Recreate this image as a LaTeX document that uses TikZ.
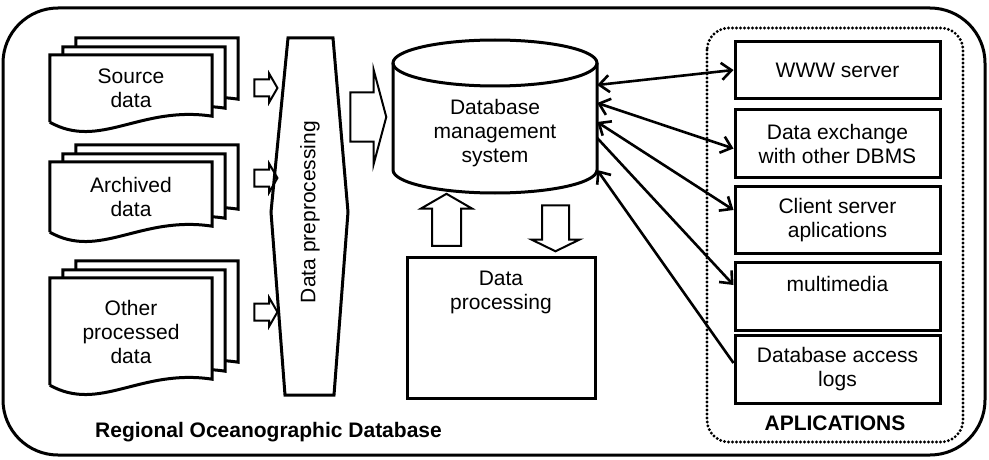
\documentclass[tikz,border=0pt]{standalone}
\usepackage{fontspec}
\setmainfont{Liberation Sans}
\usepackage{tikz}
\usetikzlibrary{shapes.arrows,arrows.meta,backgrounds}

\newcommand{\sheet}[3]{%
    \draw[line width=3pt, fill=white]
        ([xshift=#2, yshift=#3]#1.south west) -- ([xshift=#2, yshift=#3]#1.north west)
        -- ([xshift=#2, yshift=#3]#1.north east) -- ([xshift=#2, yshift=#3+6pt]#1.south east)
        .. controls ([xshift=#2-72pt, yshift=#3+17pt]#1.south east)
        and ([xshift=#2+50pt, yshift=#3-28pt]#1.south west) .. ([xshift=#2, yshift=#3]#1.south west);}
\newcommand{\docstack}[1]{\sheet{#1}{26pt}{17pt}\sheet{#1}{13pt}{8pt}\sheet{#1}{0pt}{0pt}}

\begin{document}
\begin{tikzpicture}
            [x=1pt, y=-1pt,
            every node/.style={font=\fontsize{21}{24}\selectfont, align=center, inner sep=0pt},
            doc/.style={minimum width=162pt},
            appbox/.style={draw, line width=3pt, minimum width=205pt},
            heading/.style={font=\fontsize{21}{24}\selectfont\bfseries},
            blockarrow/.style={draw, line width=2pt, single arrow, inner xsep=0pt, single arrow tip angle=120},
            conn/.style={line width=2.6pt, >={Straight Barb[length=10pt,width=17pt]}}]

            \useasboundingbox (0,0) rectangle (989,460);
            \draw[line width=3pt, rounded corners=55pt] (3,8) rectangle (985,455);

            \node[doc, minimum height=67pt] (src) at (131,88.5) {Source\\data};
            \node[doc, minimum height=70pt] (arch) at (131,197) {Archived\\data};
            \node[doc, minimum height=107pt] (oth) at (131,331.5) {Other\\processed\\data};
            \begin{scope}[on background layer]
                \docstack{src}
                \docstack{arch}
                \docstack{oth}
            \end{scope}

            \node[blockarrow, minimum height=23pt, inner ysep=7.5pt, single arrow head extend=6pt] (a1) at (263.5,88) {};
            \node[blockarrow, minimum height=23pt, inner ysep=7.5pt, single arrow head extend=6pt] (a2) at (263.5,178) {};
            \node[blockarrow, minimum height=23pt, inner ysep=7.5pt, single arrow head extend=6pt] (a3) at (263.5,312) {};

            \draw[line width=3pt] (288,38) -- (333,38) -- (348,212) -- (334,395) -- (285,395) -- (271,212) -- cycle;
            \node[rotate=90] (prep) at (310,212) {Data preprocessing};

            \node[blockarrow, minimum height=36pt, inner ysep=23.5pt, single arrow head extend=22.5pt,
                single arrow tip angle=150] (a4) at (365,117) {};

            \draw[line width=3pt] (393,63) -- (393,170)
                arc[start angle=180, end angle=360, x radius=102pt, y radius=23pt] -- (597,63);
            \draw[line width=3pt] (495,63) ellipse[x radius=102pt, y radius=23pt];
            \node[minimum width=204pt] (dbms) at (495,133) {Database\\management\\system};

            \node[draw, line width=3pt, minimum width=188pt, minimum height=141pt,
                label={[anchor=north, yshift=-15pt]north:Data\\processing}] (dproc) at (501,327.5) {};
            \node[blockarrow, rotate=90, minimum height=52pt, inner ysep=13.5pt, single arrow head extend=11pt] (up) at (446.5,224) {};
            \node[blockarrow, rotate=-90, minimum height=46pt, inner ysep=12.5pt, single arrow head extend=10.5pt,
                single arrow tip angle=128] (down) at (555.5,225) {};

            \draw[line width=3.2pt, dash pattern=on 0pt off 4pt, line cap=round, rounded corners=22pt] (707,28) rectangle (963,442);
            \node[appbox, minimum height=57pt] (www) at (837.5,70) {WWW server};
            \node[appbox, minimum height=67pt] (dx) at (837.5,143.5) {Data exchange\\with other DBMS};
            \node[appbox, minimum height=67pt] (client) at (837.5,220) {Client server\\aplications};
            \node[appbox, minimum height=68pt] (mm) at (837.5,296) {multimedia\\\mbox{}};
            \node[appbox, minimum height=68pt] (logs) at (837.5,369) {Database access\\logs};
            \node[heading] (apps) at (835,423) {APLICATIONS};
            \node[heading, anchor=west] (rod) at (95,432) {Regional Oceanographic Database};

            \draw[conn, <->] ([yshift=48pt]dbms.east) -- (www.west);
            \draw[conn, <->] ([yshift=30pt]dbms.east) -- ([yshift=-5pt]dx.west);
            \draw[conn, <->] ([yshift=11pt]dbms.east) -- ([yshift=10pt]client.west);
            \draw[conn, ->] ([yshift=-5pt]dbms.east) -- ([yshift=11pt]mm.west);
            \draw[conn, ->] ([yshift=6pt]logs.west) -- ([yshift=-37pt]dbms.east);
        \end{tikzpicture}
\end{document}
